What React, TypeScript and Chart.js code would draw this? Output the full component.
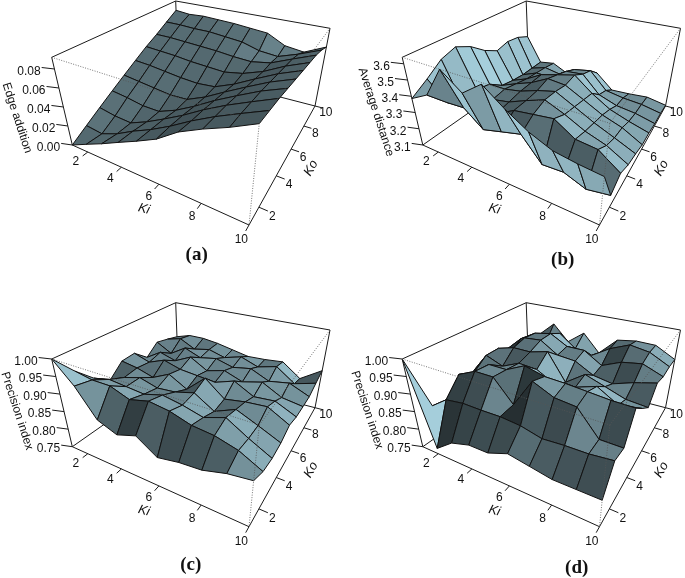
import React, { useEffect, useRef } from "react";
import { Chart, registerables } from "chart.js";

Chart.register(...registerables);

const W = 685;
const H = 578;

const kiValues = [1, 2, 3, 4, 5, 6, 7, 8, 9, 10];
const koValues = [1, 2, 3, 4, 5, 6, 7, 8, 9, 10];
const kiTicks = [2, 4, 6, 8, 10];
const koTicks = [2, 4, 6, 8, 10];

// rows: ko = 1..10, columns: ki = 1..10
const edgeAddition = [
  [0, 0.008, 0.016, 0.025, 0.034, 0.044, 0.059, 0.07, 0.08, 0.092],
  [0.009, 0.007, 0.014, 0.024, 0.033, 0.044, 0.057, 0.069, 0.08, 0.091],
  [0.018, 0.015, 0.014, 0.022, 0.032, 0.043, 0.056, 0.068, 0.079, 0.09],
  [0.027, 0.025, 0.022, 0.022, 0.03, 0.041, 0.054, 0.066, 0.078, 0.088],
  [0.036, 0.034, 0.032, 0.03, 0.031, 0.04, 0.052, 0.064, 0.076, 0.086],
  [0.045, 0.044, 0.042, 0.04, 0.039, 0.041, 0.05, 0.062, 0.074, 0.084],
  [0.054, 0.053, 0.052, 0.05, 0.049, 0.048, 0.052, 0.06, 0.072, 0.082],
  [0.062, 0.062, 0.061, 0.06, 0.059, 0.057, 0.056, 0.06, 0.07, 0.08],
  [0.071, 0.071, 0.07, 0.07, 0.068, 0.066, 0.06, 0.058, 0.066, 0.076],
  [0.08, 0.078, 0.079, 0.078, 0.077, 0.075, 0.073, 0.062, 0.059, 0.07],
];
const averageDistance = [
  [3.386, 3.446, 3.64, 3.537, 3.63, 3.527, 3.445, 3.39, 3.37, 3.357],
  [3.449, 3.337, 3.343, 3.25, 3.28, 3.31, 3.18, 3.186, 3.143, 3.165],
  [3.521, 3.25, 3.24, 3.28, 3.34, 3.357, 3.374, 3.297, 3.285, 3.2],
  [3.554, 3.3, 3.27, 3.29, 3.337, 3.38, 3.33, 3.27, 3.23, 3.165],
  [3.508, 3.28, 3.28, 3.3, 3.34, 3.37, 3.31, 3.25, 3.2, 3.149],
  [3.434, 3.217, 3.26, 3.3, 3.36, 3.35, 3.29, 3.23, 3.19, 3.127],
  [3.386, 3.2, 3.24, 3.3, 3.33, 3.36, 3.27, 3.2, 3.16, 3.127],
  [3.409, 3.19, 3.23, 3.23, 3.3, 3.31, 3.2, 3.16, 3.145, 3.116],
  [3.399, 3.19, 3.22, 3.2, 3.26, 3.28, 3.17, 3.15, 3.14, 3.116],
  [3.364, 3.19, 3.204, 3.154, 3.194, 3.21, 3.115, 3.119, 3.128, 3.105],
];
const precisionC = [
  [1.0, 0.94, 0.864, 0.843, 0.861, 0.825, 0.835, 0.839, 0.855, 0.863],
  [0.94, 0.93, 0.93, 0.909, 0.923, 0.915, 0.897, 0.891, 0.875, 0.845],
  [0.893, 0.905, 0.9, 0.895, 0.91, 0.9, 0.885, 0.905, 0.87, 0.84],
  [0.862, 0.885, 0.9, 0.885, 0.89, 0.905, 0.87, 0.895, 0.87, 0.844],
  [0.898, 0.89, 0.875, 0.9, 0.87, 0.92, 0.875, 0.885, 0.89, 0.858],
  [0.901, 0.885, 0.905, 0.89, 0.885, 0.88, 0.9, 0.87, 0.875, 0.848],
  [0.866, 0.895, 0.88, 0.905, 0.875, 0.89, 0.87, 0.885, 0.855, 0.846],
  [0.897, 0.87, 0.9, 0.88, 0.89, 0.875, 0.885, 0.86, 0.87, 0.845],
  [0.888, 0.9, 0.875, 0.885, 0.87, 0.885, 0.865, 0.88, 0.84, 0.857],
  [0.878, 0.892, 0.892, 0.885, 0.874, 0.863, 0.865, 0.87, 0.829, 0.869],
];
const precisionD = [
  [1.0, 0.765, 0.8, 0.815, 0.815, 0.835, 0.825, 0.815, 0.815, 0.815],
  [0.8375, 0.8725, 0.88, 0.879, 0.88, 0.875, 0.861, 0.865, 0.866, 0.8725],
  [0.83, 0.92, 0.945, 0.945, 0.8825, 0.9675, 0.94, 0.934, 0.8675, 0.867],
  [0.835, 0.9, 0.94, 0.94, 0.9675, 0.9525, 0.95, 0.945, 0.94, 0.939],
  [0.8675, 0.93, 0.91, 0.934, 0.93, 0.9, 0.91, 0.93, 0.895, 0.905],
  [0.876, 0.93, 0.945, 0.945, 0.96, 0.88, 0.92, 0.9, 0.88, 0.875],
  [0.845, 0.89, 0.955, 0.96, 0.925, 0.92, 0.89, 0.88, 0.9, 0.916],
  [0.876, 0.92, 0.95, 0.96, 0.93, 0.93, 0.895, 0.92, 0.93, 0.906],
  [0.87, 0.91, 0.89, 0.94, 0.9, 0.89, 0.925, 0.95, 0.94, 0.909],
  [0.864, 0.898, 0.9425, 0.891, 0.931, 0.875, 0.93, 0.939, 0.9375, 0.905],
];

const edgeTicks = [0, 0.02, 0.04, 0.06, 0.08];
const distanceTicks = [3.1, 3.2, 3.3, 3.4, 3.5, 3.6];
const precisionTicks = [0.75, 0.8, 0.85, 0.9, 0.95, 1.0];

const panels = [
  { grid: edgeAddition, zMin: 0, zMax: 0.0923, ticks: edgeTicks, digits: 2, title: "Edge addition", tag: "(a)", ox: 0, oy: 0, tx: 17, ty: 118, lx: 196.7, ly: 255 },
  { grid: averageDistance, zMin: 3.1, zMax: 3.64, ticks: distanceTicks, digits: 1, title: "Average distance", tag: "(b)", ox: 350.5, oy: 0, tx: 376, ty: 112, lx: 562.7, ly: 260 },
  { grid: precisionC, zMin: 0.75, zMax: 1.0, ticks: precisionTicks, digits: 2, title: "Precision index", tag: "(c)", ox: 0, oy: 301.7, tx: 17, ty: 411, lx: 190.7, ly: 565 },
  { grid: precisionD, zMin: 0.75, zMax: 1.0, ticks: precisionTicks, digits: 2, title: "Precision index", tag: "(d)", ox: 350.5, oy: 301.7, tx: 367, ty: 410, lx: 576.7, ly: 567.7 },
];

// Box corners as seen in panel (a)
const G = { a: [72.3, 145], b: [249, 225], c: [315, 106], d: [178.3, 70.7] };
const T = { a: [51.7, 57.3], b: [259.3, 123.3], c: [330, 28.3], d: [175.7, 1] };
const KI_BEND = 1.3;
const KO_BEND = 0.71;

function project(s: number, t: number, w: number, ox: number, oy: number) {
  const u = s / (s + KI_BEND * (1 - s));
  const v = t / (t + KO_BEND * (1 - t));
  const mix = (q: any, i: number) =>
    (1 - u) * (1 - v) * q.a[i] + u * (1 - v) * q.b[i] + u * v * q.c[i] + (1 - u) * v * q.d[i];
  return {
    x: mix(G, 0) * (1 - w) + mix(T, 0) * w + ox,
    y: mix(G, 1) * (1 - w) + mix(T, 1) * w + oy,
  };
}

const BASE = [173, 216, 230];
const LIGHT = [0.8, 0.55, 0.2];
const Z_SCALE = 0.5;

function shadeOf(g: number[][]) {
  const zu = ((g[0][1] + g[1][1] - g[0][0] - g[1][0]) / 2) * 9 * Z_SCALE;
  const zv = ((g[1][0] + g[1][1] - g[0][0] - g[0][1]) / 2) * 9 * Z_SCALE;
  const len = Math.hypot(zu, zv, 1);
  const dot = (-zu * LIGHT[0] - zv * LIGHT[1] + LIGHT[2]) / len;
  const f = (1 + dot) / 2;
  return `rgb(${BASE.map((c) => Math.round(c * f)).join(",")})`;
}

const lineSet = (data: any[], order: number, extra: any = {}) => ({
  data,
  order,
  showLine: true,
  fill: false,
  pointRadius: 0,
  borderColor: "#1a1a1a",
  borderWidth: 1,
  tension: 0,
  clip: false,
  ...extra,
});

function buildDatasets() {
  const sets: any[] = [];
  let seq = 0;
  for (const p of panels) {
    const { ox, oy, zMin, zMax, grid } = p;
    const P = (s: number, t: number, w: number) => project(s, t, w, ox, oy);
    const wOf = (z: number) => (z - zMin) / (zMax - zMin);
    const G00 = P(0, 0, 0), G10 = P(1, 0, 0), G11 = P(1, 1, 0), G01 = P(0, 1, 0);
    const T00 = P(0, 0, 1), T10 = P(1, 0, 1), T11 = P(1, 1, 1), T01 = P(0, 1, 1);
    for (const seg of [[T00, T01], [T01, T11], [T00, G00], [T11, G11], [T01, G01], [G00, G01], [G01, G11]]) {
      sets.push(lineSet(seg, -seq++));
    }
    for (let r = koValues.length - 2; r >= 0; r--) {
      for (let c = 0; c < kiValues.length - 1; c++) {
        const s0 = (kiValues[c] - 1) / 9, s1 = (kiValues[c + 1] - 1) / 9;
        const t0 = (koValues[r] - 1) / 9, t1 = (koValues[r + 1] - 1) / 9;
        const cell = [
          [wOf(grid[r][c]), wOf(grid[r][c + 1])],
          [wOf(grid[r + 1][c]), wOf(grid[r + 1][c + 1])],
        ];
        const a = P(s0, t0, cell[0][0]);
        sets.push(
          lineSet([a, P(s1, t0, cell[0][1]), P(s1, t1, cell[1][1]), P(s0, t1, cell[1][0]), a], -seq++, {
            fill: "shape",
            backgroundColor: shadeOf(cell),
            borderColor: "#111111",
            borderWidth: 1,
            borderJoinStyle: "round",
          })
        );
      }
    }
    sets.push(lineSet([G00, G10], -seq++));
    sets.push(lineSet([G10, G11], -seq++));
    for (const k of kiTicks) {
      const s = (k - 1) / 9;
      sets.push(lineSet([P(s, 0, 0), P(s, -0.035, 0)], -seq++));
    }
    for (const k of koTicks) {
      const t = (k - 1) / 9;
      sets.push(lineSet([P(1, t, 0), P(1.04, t, 0)], -seq++));
    }
    for (const v of p.ticks) {
      const w = wOf(v);
      sets.push(lineSet([P(0, 0, w), P(-0.06, -0.02, w)], -seq++));
    }
    for (const seg of [[T00, T10], [T10, T11], [T10, G10]]) {
      sets.push(lineSet(seg, -seq++, { borderColor: "#555555", borderWidth: 0.8, borderDash: [1, 1.5] }));
    }
  }
  return sets;
}

const textPlugin = {
  id: "panelText",
  afterDraw(chart: any) {
    const { ctx, scales } = chart;
    const X = (v: number) => scales.x.getPixelForValue(v);
    const Y = (v: number) => scales.y.getPixelForValue(v);
    const put = (text: string, x: number, y: number, font: string, rot = 0, align: CanvasTextAlign = "center") => {
      ctx.save();
      ctx.translate(X(x), Y(y));
      ctx.rotate((rot * Math.PI) / 180);
      ctx.font = font;
      ctx.fillStyle = "#111111";
      ctx.textAlign = align;
      ctx.textBaseline = "middle";
      ctx.fillText(text, 0, 0);
      ctx.restore();
    };
    const tickFont = '12px "Liberation Sans"';
    for (const p of panels) {
      const P = (s: number, t: number, w: number) => project(s, t, w, p.ox, p.oy);
      for (const k of kiTicks) {
        const q = P((k - 1) / 9, -0.08, 0);
        put(String(k), q.x, q.y + 1, tickFont);
      }
      for (const k of koTicks) {
        const q = P(1.06, (k - 1) / 9, 0);
        put(String(k), q.x, q.y + 4, tickFont);
      }
      for (const v of p.ticks) {
        const q = P(-0.06, -0.02, (v - p.zMin) / (p.zMax - p.zMin));
        put(v.toFixed(p.digits), q.x - 1, q.y + 4, tickFont, 0, "right");
      }
      put("Ki", 144 + p.ox, 209 + p.oy, 'italic 13px "Liberation Sans"', 15);
      put("Ko", 311 + p.ox, 168 + p.oy, 'italic 13px "Liberation Sans"', -60);
      put(p.title, p.tx, p.ty, '12px "Liberation Sans"', 72);
      put(p.tag, p.lx, p.ly, 'bold 19px "Liberation Serif"');
    }
  },
};

export default function App() {
  const ref = useRef<HTMLCanvasElement>(null);
  useEffect(() => {
    const chart = new Chart(ref.current as HTMLCanvasElement, {
      type: "scatter",
      data: { datasets: buildDatasets() },
      plugins: [textPlugin],
      options: {
        animation: false,
        responsive: false,
        events: [],
        layout: { padding: 0 },
        plugins: { legend: { display: false }, tooltip: { enabled: false } },
        scales: {
          x: { type: "linear", min: 0, max: W, display: false },
          y: { type: "linear", min: 0, max: H, reverse: true, display: false },
        },
      },
    } as any);
    return () => chart.destroy();
  }, []);
  return (
    <div style={{ position: "fixed", left: 0, top: 0, width: W, height: H, background: "#ffffff" }}>
      <canvas ref={ref} width={W} height={H} style={{ display: "block", width: W, height: H }} />
    </div>
  );
}
